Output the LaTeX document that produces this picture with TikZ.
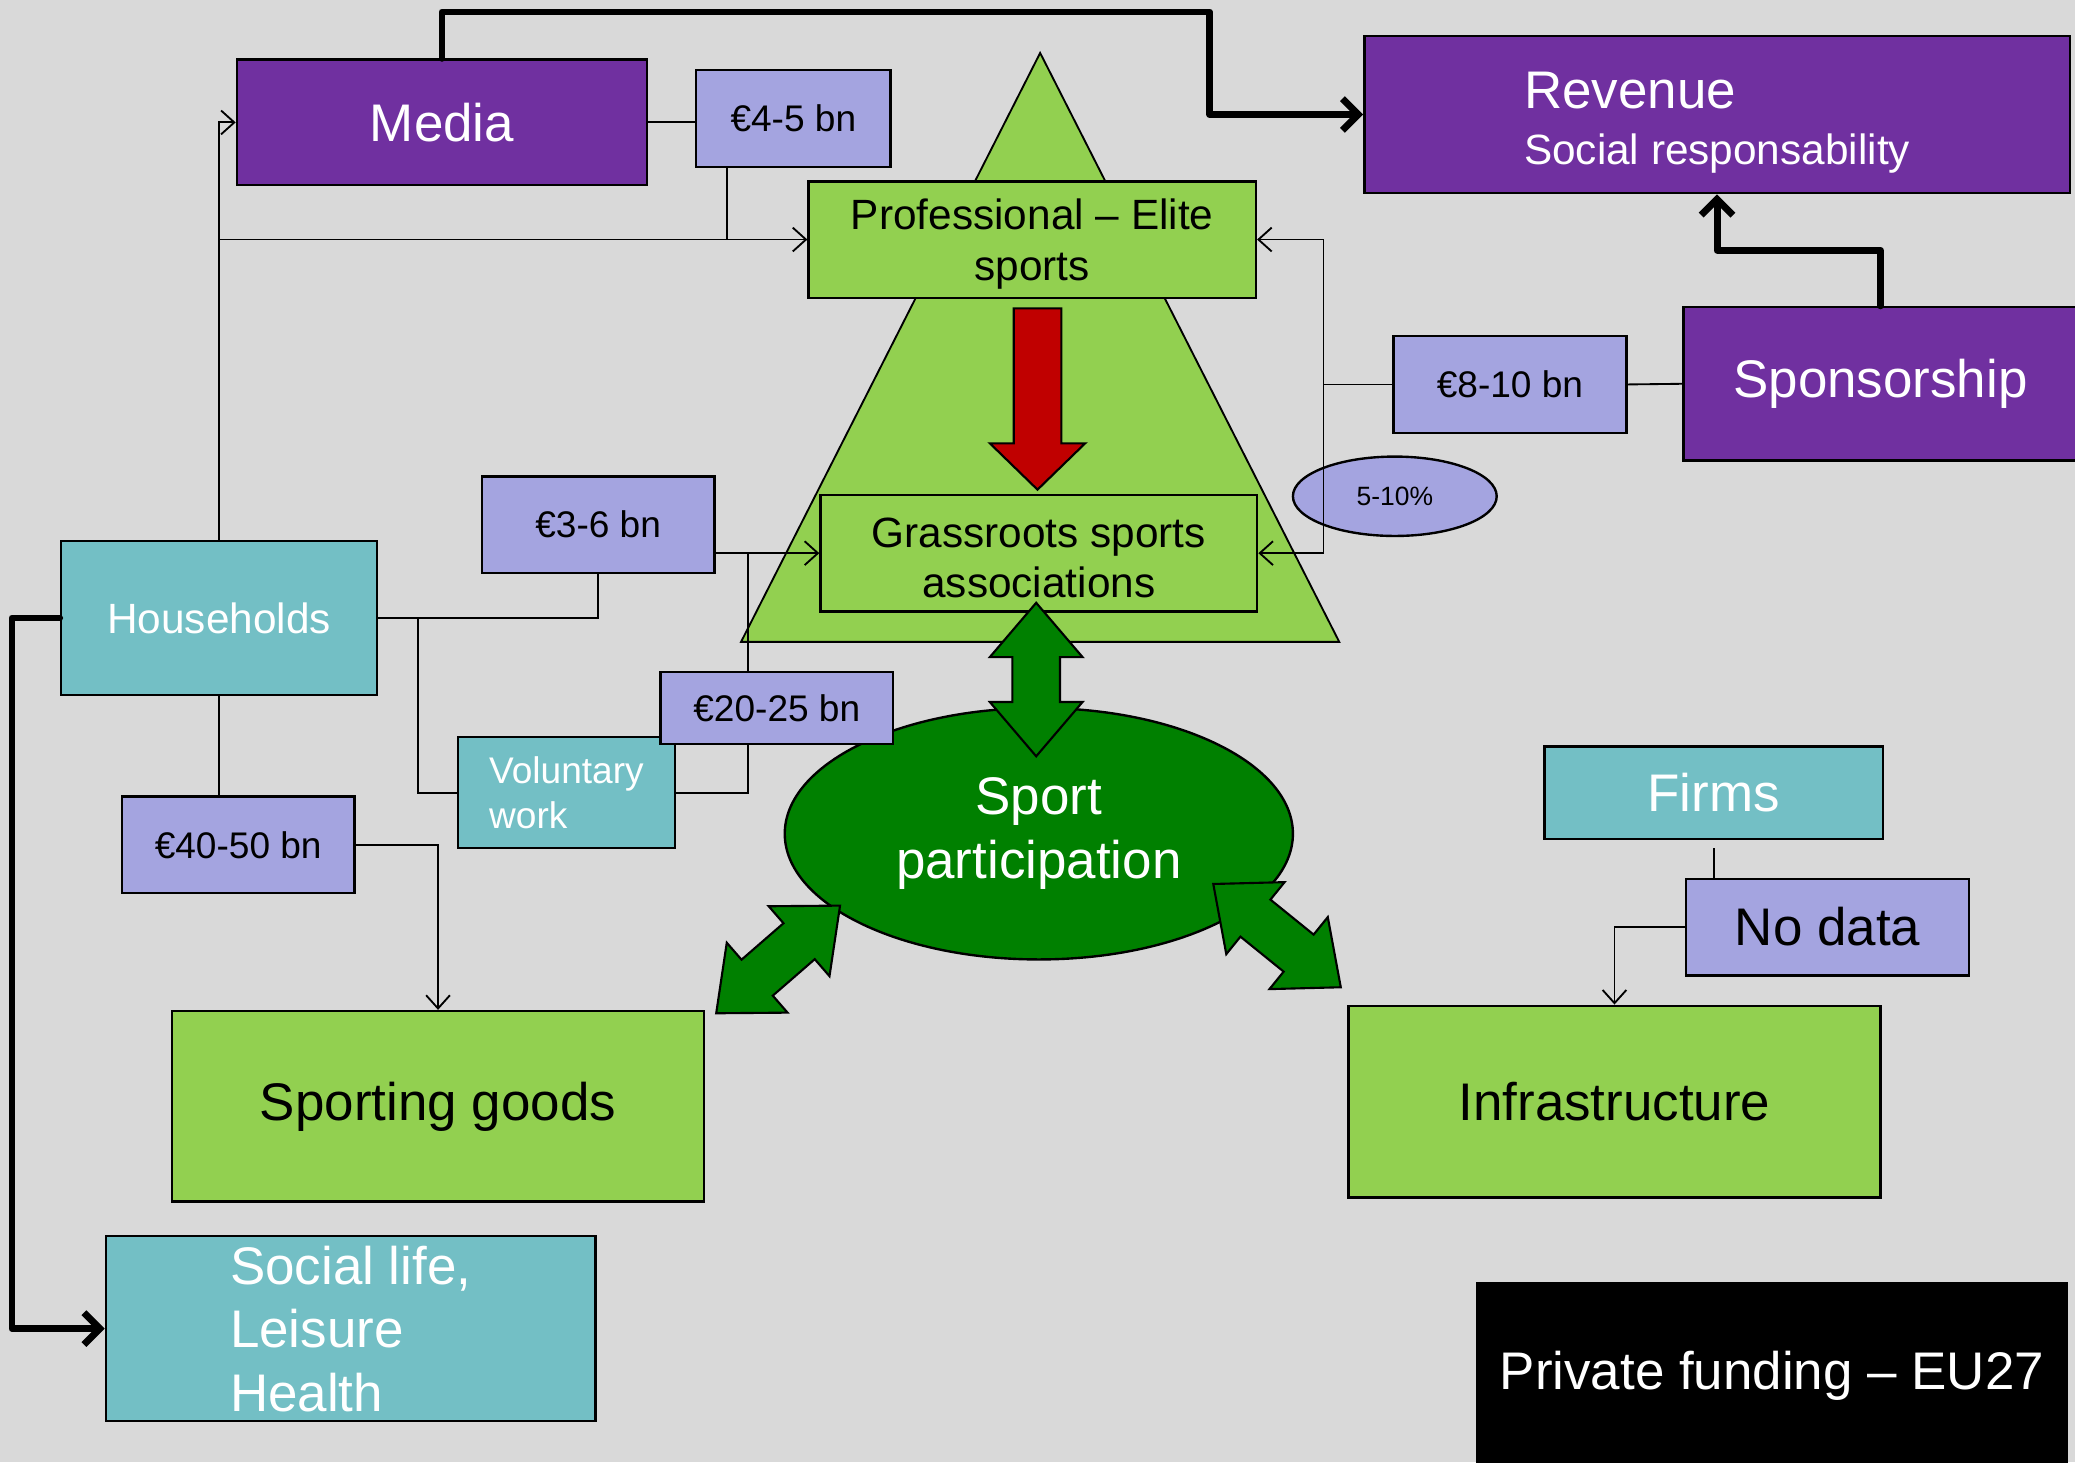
\documentclass[tikz,border=0pt]{standalone}
\usepackage{fontspec}
\setmainfont{Liberation Sans}
\usepackage{tikz}
\usetikzlibrary{arrows.meta}
\usetikzlibrary{shapes.geometric}

\definecolor{bgcol}{HTML}{D9D9D9}
\definecolor{purp}{HTML}{7030A0}
\definecolor{lilac}{HTML}{A4A4E0}
\definecolor{lgreen}{HTML}{92D050}
\definecolor{teal}{HTML}{73BFC5}
\definecolor{dgreen}{HTML}{008000}
\definecolor{dred}{HTML}{C00000}

\begin{document}
\begin{tikzpicture}[x=0.5pt, y=-0.5pt,
    box/.style={draw, line width=0.9pt, inner sep=0pt, align=center},
    actor/.style={box, fill=purp, text=white, font=\fontsize{20}{24}\selectfont},
    spend/.style={box, fill=lilac, minimum width=88pt, minimum height=36.5pt, font=\fontsize{14}{17}\selectfont},
    level/.style={box, fill=lgreen, font=\fontsize{16}{19}\selectfont},
    payer/.style={box, fill=teal, text=white, font=\fontsize{20}{24}\selectfont},
    link/.style={draw, line width=0.7pt},
    linkto/.style={link, -{Straight Barb[length=5pt,width=9pt]}},
    mainflow/.style={draw, line width=2.6pt, line cap=round, line join=round, -{Straight Barb[length=6pt,width=12pt]}},
    bigarrow/.style={draw, line width=0.8pt}]
    \useasboundingbox (0,0) rectangle (1568,1105);
    \path[fill=bgcol] (0,0) rectangle (1568,1105);

    % pyramid and participation
    \path[draw, fill=lgreen, line width=0.7pt] (786,40) -- (1012,485) -- (560,485) -- cycle;
    \node[ellipse, draw, line width=0.9pt, fill=dgreen, text=white, inner sep=0pt, align=center,
          minimum width=192pt, minimum height=95pt, font=\fontsize{20}{24}\selectfont]
          (sport) at (785,630) {Sport\\participation};

    % top row
    \node[actor, minimum width=155pt, minimum height=47.5pt] (media) at (334,92.5) {Media};
    \node[spend, minimum width=73.5pt] (m45) at (599.5,89.5) {€4-5 bn};
    \node[actor, align=left, minimum width=266.5pt, minimum height=59.5pt] (revenue) at (1297.5,86.5)
          {\rule{0pt}{20pt}Revenue\\[-3pt]{\fontsize{16}{19}\selectfont Social responsability}};

    % levels of sport
    \node[level, minimum width=169pt, minimum height=44pt] (prof) at (780,181) {\rule{0pt}{15pt}Professional – Elite\\sports};
    \node[level, minimum width=165pt, minimum height=44pt] (grass) at (785,418) {\rule{0pt}{15pt}Grassroots sports\\associations};

    % sponsorship side
    \node[actor, minimum width=149pt, minimum height=58pt] (spons) at (1421,290) {Sponsorship};
    \node[spend] (c810) at (1141,290.5) {€8-10 bn};
    \node[ellipse, draw, line width=0.9pt, fill=lilac, inner sep=0pt, minimum width=77pt, minimum height=30pt,
          font=\fontsize{10}{12}\selectfont] (pct) at (1054,375) {5-10\%};

    % households side
    \node[payer, minimum width=119.5pt, minimum height=58pt, font=\fontsize{16}{19}\selectfont] (house) at (165.5,467) {Households};
    \node[spend] (c36) at (452,396.5) {€3-6 bn};
    \node[payer, align=left, minimum width=82pt, minimum height=42pt, font=\fontsize{14}{17}\selectfont] (volunt) at (428,599) {Voluntary\\work};
    \node[spend, minimum height=27pt] (c2025) at (587,535) {€20-25 bn};
    \node[spend] (c4050) at (180,638.5) {€40-50 bn};

    % bottom row
    \node[level, minimum width=201pt, minimum height=72pt, font=\fontsize{20}{24}\selectfont] (goods) at (331,836) {Sporting goods};
    \node[payer, align=left, minimum width=185pt, minimum height=70pt] (social) at (265,1004) {Social life,\\Leisure\\Health};
    \node[payer, minimum width=128pt, minimum height=35pt] (firms) at (1295,599) {Firms};
    \node[spend, minimum width=107pt, font=\fontsize{20}{24}\selectfont] (nodata) at (1381,700.5) {No data};
    \node[level, minimum width=201pt, minimum height=72.5pt, font=\fontsize{20}{24}\selectfont] (infra) at (1220,832.5) {Infrastructure};
    \node[box, fill=black, text=white, minimum width=223pt, minimum height=70pt, font=\fontsize{20}{24}\selectfont] (eu) at (1339,1040) {Private funding – EU27};

    % thick flows
    \path[mainflow] (media.north) -- ++(0,-35) -| ([xshift=-58pt]revenue.west) -- (revenue.west);
    \path[mainflow] (spons.north) -- ++(0,-42) -| (revenue.south);
    \path[mainflow] (house.west) -- ++(-36,0) |- (social.west);

    % money from households
    \path[linkto] (house.north) |- (media.west);
    \path[linkto] (house.north |- prof.west) -- (prof.west);
    \path[link] (media.east) -- (media.east -| m45.west);
    \path[link] ([xshift=-25pt]m45.south) -- ([xshift=-25pt]m45.south |- prof.west);
    \path[link] (house.east) -| (c36.south);
    \path[linkto] (c36.east |- grass.west) -- (grass.west);
    \path[link] (house.east) -- ++(30,0) |- (volunt.west);
    \path[link] (volunt.east) -| ([xshift=-11pt]c2025.south);
    \path[link] ([xshift=-11pt]c2025.north) -- ([xshift=-11pt]c2025.north |- grass.west);
    \path[link] (house.south) -- (house.south |- c4050.north);
    \path[linkto] (c4050.east) -| (goods.north);

    % money from sponsors
    \path[link] (c810.east) -- (spons.west);
    \path[linkto] (c810.west) -- ++(-52,0) |- (prof.east);
    \path[linkto] (c810.west) -- ++(-52,0) |- (grass.east);

    % firms
    \path[link] (firms.south |- nodata.north) -- ++(0,-22);
    \path[linkto] (nodata.west) -| (infra.north);

    % trickle down
    \path[bigarrow, fill=dred] (766,233) -- (802,233) -- (802,335) -- (820,335) -- (784,370) -- (748,335) -- (766,335) -- cycle;

    % two-way arrows round participation
    \begin{scope}[shift={(783,513.5)}, rotate=90]
        \path[bigarrow, fill=dgreen] (-58,0) -- (-17,-35) -- (-17,-18) -- (17,-18) -- (17,-35) -- (58,0) -- (17,35) -- (17,18) -- (-17,18) -- (-17,35) -- cycle;
    \end{scope}
    \begin{scope}[shift={(588,725)}, rotate=41]
        \path[bigarrow, fill=dgreen] (-62,0) -- (-21,-35) -- (-21,-18) -- (21,-18) -- (21,-35) -- (62,0) -- (21,35) -- (21,18) -- (-21,18) -- (-21,35) -- cycle;
    \end{scope}
    \begin{scope}[shift={(965,707)}, rotate=-39]
        \path[bigarrow, fill=dgreen] (-62,0) -- (-21,-35) -- (-21,-18) -- (21,-18) -- (21,-35) -- (62,0) -- (21,35) -- (21,18) -- (-21,18) -- (-21,35) -- cycle;
    \end{scope}
\end{tikzpicture}
\end{document}
